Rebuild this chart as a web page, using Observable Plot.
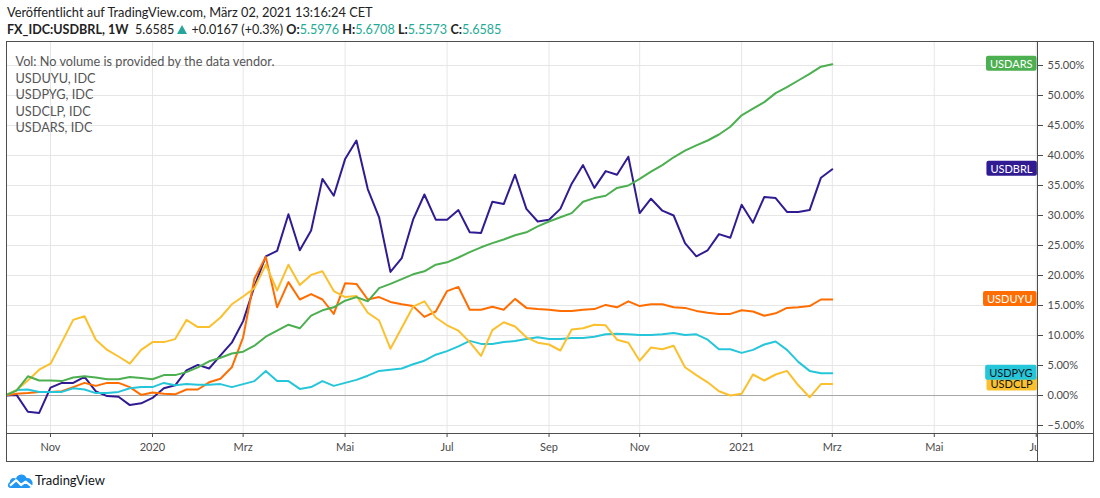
<!DOCTYPE html>
<html><head><meta charset="utf-8">
<script src="https://cdn.jsdelivr.net/npm/d3@7"></script>
<script src="https://cdn.jsdelivr.net/npm/@observablehq/plot@0.6"></script>
<style>
  html,body{margin:0;padding:0;background:#fff;}
  body{width:1100px;height:498px;position:relative;overflow:hidden;font-family:Lato,"Open Sans",sans-serif;color:#131722;}
  .hdr{position:absolute;left:7px;font-size:14px;white-space:nowrap;line-height:18px;}
  #hdr1{top:3px;color:#222;}
  #hdr2{top:21px;color:#222;}
  .up{color:#22ab94;}
  .tri{display:inline-block;width:0;height:0;border-left:5px solid transparent;border-right:5px solid transparent;border-bottom:9px solid #26a69a;margin:0 4px 0 3px;vertical-align:0px;}
  #chart{position:absolute;left:0;top:42px;}
  .frame{position:absolute;background:#4e4e4e;pointer-events:none;}
  #logo{position:absolute;left:7px;top:471px;display:flex;align-items:center;font-size:14px;color:#131722;}
</style></head>
<body>
<div id="hdr1" class="hdr"></div>
<div id="hdr2" class="hdr"></div>
<div id="chart"></div>
<div id="logo"><svg width="27" height="18" viewBox="0 0 27 18"><path d="M3.5 17 C0.5 17 0 12.5 2.8 11.2 C2.6 7.5 6.5 5.8 9 7.6 C10.5 2.6 17.5 1.8 19.6 7 C23.5 6.5 26.5 10.2 25.4 13.8 C24.8 15.8 23.4 17 21.5 17 Z" fill="#2196f3"/><path d="M3 14.6 L9.2 9.2 L14 14 L18.6 10.6 L24.6 15.4" fill="none" stroke="#fff" stroke-width="2.2" stroke-linejoin="round"/></svg><span id="logotext" style="margin-left:1px">TradingView</span></div>
<script>
// ---- header texts ----
const headerTitle = "Veröffentlicht auf TradingView.com, März 02, 2021 13:16:24 CET";
const symbol = "FX_IDC:USDBRL, 1W";
const lastPrice = "5.6585";
const change = "+0.0167 (+0.3%)";
const ohlcKeys = ["O:", "H:", "L:", "C:"];
const ohlcVals = ["5.5976", "5.6708", "5.5573", "5.6585"];

// ---- data (weekly bars, % change since first bar) ----
const firstBar = "2019-10-07";
const usdbrl = [0,0.1,-2.7,-2.9,1.3,2.1,2.1,3.1,0.7,-0.1,-0.2,-1.6,-1.3,-0.4,1.2,1.7,4.2,5.1,4.5,6.7,8.8,12.4,18.2,23.2,24.1,30.2,24.2,27.5,36.1,33.3,39.4,42.5,34.4,29.7,20.6,22.9,29.3,33.5,29.3,29.3,30.9,27.2,27.1,32.3,31.9,36.8,31.1,29.0,29.3,31.1,35.3,38.4,34.6,37.4,36.8,39.8,30.4,32.8,30.8,30.0,25.4,23.2,24.2,26.9,26.3,31.8,28.8,33.1,32.9,30.6,30.6,30.9,36.3,37.7];
const usduyu = [0,0.3,0.4,0.6,0.6,0.7,1.4,2.1,1.6,2.1,2.1,1.4,0.1,0.5,0.3,0.2,1.0,1.0,2.2,2.8,4.7,9.7,19.5,23.1,14.7,18.9,16.0,16.9,16.0,13.6,18.7,18.6,16.0,16.4,15.6,15.2,14.9,13.1,14.0,17.4,18.1,14.3,14.3,14.8,14.3,16.1,14.6,14.4,14.3,14.1,14.1,14.3,14.4,15.1,14.7,15.7,14.9,15.2,15.2,14.7,14.6,14.1,13.8,13.6,13.6,14.2,14.0,13.3,13.7,14.6,14.7,14.9,16.0,16.0];
const usdpyg = [0,0.9,1.0,0.6,0.6,0.6,1.2,1.0,0.4,0.4,0.6,1.2,1.4,1.4,2.1,1.7,1.9,1.8,1.8,1.9,1.4,1.9,2.4,4.1,2.4,2.4,1.1,1.4,2.4,1.6,2.1,2.6,3.3,4.1,4.3,4.5,5.2,5.8,6.8,7.4,8.2,9.1,8.6,8.6,8.9,9.1,9.4,9.7,9.4,9.4,9.6,9.6,9.8,10.2,10.3,10.2,10.1,10.1,10.2,10.4,10.1,10.2,9.3,7.7,7.7,7.1,7.6,8.5,9.0,7.6,5.6,4.1,3.7,3.7];
const usdclp = [0,0.9,2.5,4.3,5.3,8.9,12.6,13.2,9.3,7.6,6.5,5.3,7.6,8.9,8.9,9.4,12.6,11.4,11.4,13.0,15.2,16.5,17.9,21.8,17.5,21.8,18.4,20.1,20.7,17.4,16.4,16.6,13.8,12.5,7.8,11.3,14.8,15.7,13.0,11.7,10.8,8.9,6.6,10.9,12.2,11.5,9.7,8.8,8.5,7.5,11.0,11.2,11.8,11.7,9.3,8.8,5.8,8.0,7.7,8.3,4.7,3.4,2.2,0.7,0.0,0.3,3.5,2.5,3.5,4.1,1.7,-0.3,1.9,1.9];
const usdars = [0,0.8,3.2,2.5,2.5,2.4,3.0,3.2,3.0,2.7,2.7,3.1,2.9,2.7,3.4,3.4,3.9,4.7,5.7,6.3,7.0,7.3,8.3,9.8,10.8,11.8,11.2,13.3,14.2,14.7,15.8,16.4,15.7,17.9,18.6,19.4,20.2,20.7,21.8,22.2,23.0,23.9,24.7,25.4,26.0,26.7,27.2,28.2,29.0,29.7,30.4,32.3,32.9,33.3,34.6,35.0,36.1,37.3,38.4,39.7,40.8,41.7,42.5,43.5,44.8,46.7,47.8,48.9,50.4,51.4,52.5,53.6,54.8,55.2];

const seriesNames = ["USDBRL", "USDUYU", "USDPYG", "USDCLP", "USDARS"];
const seriesColors = ["#311b92", "#ff6d00", "#26c6da", "#fbc02d", "#4caf50"];
const labelTextColors = ["#ffffff", "#ffffff", "#131722", "#131722", "#ffffff"];
const legendLines = ["Vol: No volume is provided by the data vendor.", "USDUYU, IDC", "USDPYG, IDC", "USDCLP, IDC", "USDARS, IDC"];

// ---- axis settings ----
const xTickDates = ["2019-11-04","2020-01-06","2020-03-02","2020-05-04","2020-07-06","2020-09-07","2020-11-02","2021-01-04","2021-03-01","2021-05-03","2021-07-05"];
const xTickLabels = ["Nov","2020","Mrz","Mai","Jul","Sep","Nov","2021","Mrz","Mai","Jul"];
const xDomain = ["2019-10-08T10:00:00Z", "2021-07-05T19:00:00Z"];
const yTicks = [-5,0,5,10,15,20,25,30,35,40,45,50,55];
const yDomain = [-6.333, 58.833];

// ---- header ----
document.getElementById("hdr1").textContent = headerTitle;
const h2 = d3.select("#hdr2");
h2.append("b").text(symbol);
h2.append("span").text("\u00a0 " + lastPrice);
h2.append("span").attr("class","tri");
h2.append("span").text(change + " ");
ohlcKeys.forEach((k,i) => {
  h2.append("b").text(k);
  h2.append("span").attr("class","up").text(ohlcVals[i] + (i < 3 ? " " : ""));
});
// fit header lines to the reference widths
function fitWidth(el, target) {
  const w = el.getBoundingClientRect().width;
  const fs = parseFloat(getComputedStyle(el).fontSize);
  if (w > 0) el.style.fontSize = (fs * target / w).toFixed(2) + "px";
}
fitWidth(document.getElementById("hdr1"), 366);
fitWidth(document.getElementById("hdr2"), 493);
fitWidth(document.getElementById("logotext"), 70);

// ---- build table ----
const start = new Date(firstBar + "T00:00:00Z");
const all = [usdbrl, usduyu, usdpyg, usdclp, usdars];
const rows = [];
all.forEach((arr, s) => arr.forEach((v, i) => rows.push({series: seriesNames[s], date: d3.utcWeek.offset(start, i), value: v})));
const lastRows = seriesNames.map((n, s) => ({series: n, value: all[s][all[s].length - 1], color: seriesColors[s], tc: labelTextColors[s]}));
const labelOrder = ["USDBRL","USDUYU","USDCLP","USDPYG","USDARS"].map(n => lastRows.find(r => r.series === n));

const tickDates = xTickDates.map(d => new Date(d + "T00:00:00Z"));
const tickLabelMap = new Map(tickDates.map((d, i) => [+d, xTickLabels[i]]));
const fmtPct = d => (d < 0 ? "\u2212" : "") + Math.abs(d).toFixed(2) + "%";

const chart = Plot.plot({
  width: 1100,
  height: 420,
  marginLeft: 7,
  marginRight: 63,
  marginTop: 0,
  marginBottom: 29,
  style: {fontFamily: "Lato, 'Open Sans', sans-serif", fontSize: "11px", color: "#4a4a4a", background: "transparent", overflow: "visible"},
  x: {type: "utc", domain: xDomain.map(d => new Date(d)), ticks: tickDates, tickFormat: d => tickLabelMap.get(+d), tickSize: 4, tickPadding: 6, label: null},
  y: {domain: yDomain, ticks: yTicks, tickFormat: fmtPct, axis: "right", tickSize: 5, tickPadding: 5, label: null},
  marks: [
    Plot.gridX(tickDates, {stroke: "#e6e6e6", strokeOpacity: 1}),
    Plot.gridY(yTicks, {stroke: "#e6e6e6", strokeOpacity: 1}),
    Plot.ruleY([0], {stroke: "#a8a8a8", strokeWidth: 1}),
    ...seriesNames.map((n, s) => Plot.line(rows.filter(r => r.series === n), {x: "date", y: "value", stroke: seriesColors[s], strokeWidth: 2, clip: true})),
    Plot.text([legendLines.join("\n")], {frameAnchor: "top-left", dx: 8, dy: 12, fontSize: 13, lineHeight: 1.3, fill: "#555", textAnchor: "start", lineAnchor: "top", className: "legendtext"}),
    Plot.text(labelOrder, {frameAnchor: "right", y: "value", text: "series", fill: "tc", textAnchor: "end", dx: -5, fontSize: 11, className: "lastlabels"})
  ]
});
document.getElementById("chart").appendChild(chart);

// fit legend text width (first line spans ~259px in the reference)
const legText = d3.select(chart).select("g.legendtext text").node();
if (legText) {
  const ts = legText.querySelector("tspan");
  const w = ts ? ts.getComputedTextLength() : legText.getComputedTextLength();
  if (w > 0) d3.select(legText).attr("font-size", (13 * 259 / w).toFixed(2));
}

// label backgrounds
const lblG = d3.select(chart).select("g.lastlabels");
lblG.selectAll("text").each(function(_, i) {
  const bb = this.getBBox();
  const r = labelOrder[i];
  const t = d3.select(this);
  const rectSel = d3.select(this.parentNode).insert("rect", () => this);
  rectSel.attr("x", bb.x - 4).attr("width", bb.width + 8)
    .attr("y", bb.y + bb.height / 2 - 7.5).attr("height", 15)
    .attr("rx", 2).attr("fill", r.color)
    .attr("transform", t.attr("transform"));
});

// frame lines (decoration)
const body = document.body;
function line(l, t, w, h, bg) { const d = document.createElement("div"); d.className = "frame"; d.style.left = l + "px"; d.style.top = t + "px"; d.style.width = w + "px"; d.style.height = h + "px"; if (bg) d.style.background = bg; body.appendChild(d); }
line(1038, 434, 54, 27, "#fff");
line(6, 41, 1088, 1);
line(6, 461, 1088, 1);
line(6, 41, 1, 421);
line(1093, 41, 1, 421);
line(1037, 41, 1, 421);
line(6, 433, 1088, 1);
</script>
</body></html>
